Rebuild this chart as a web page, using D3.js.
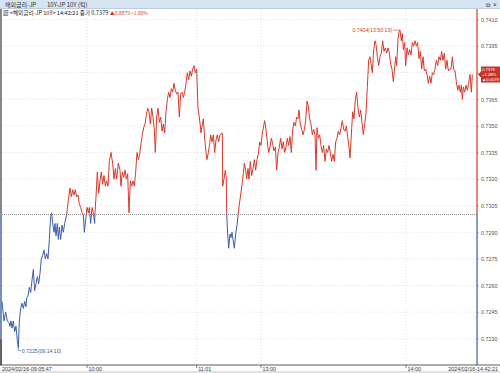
<!DOCTYPE html>
<html>
<head>
<meta charset="utf-8">
<script src="https://cdn.jsdelivr.net/npm/d3@7"></script>
<style>
  body { margin: 0; background: #fff; }
  svg { display: block; }
  text { font-family: "Liberation Sans", Arial, sans-serif; }
  .kr { font-family: "Noto Sans CJK KR", "Liberation Sans", sans-serif; }
</style>
</head>
<body>
<svg id="chart" width="500" height="373"></svg>
<script>
const width = 500, height = 373;

// tick sequence numbers and yields (10Y JP, tick chart)
const ticks = [6,12,17,22,27,30,33,36,40,44,48,52,55,58,62,66,70,74,78,80,84,88,92,96,100,104,108,112,116,120,
  124,128,132,136,140,144,148,152,155,158,162,165,168,172,175,178,182,186,190,194,200,205,210,214,218,222,226,230,234,238,
  242,246,250,253,257,261,265,268,272,276,280,284,285,288,292,296,300,304,308,312,316,320,324,328,333,338,342,346,350,355,
  360,363,367,371,375,379,383,387,391,395,399,403,407,411,415,419,423,427,431,435,439,443,447,451,455,459,463,466,470,474,
  478,482,486,490,494,498,502,506,510,514,518,522,526,530,534,538,542,546,550,554,558,562,566,570,574,578,582,586,590,594,
  598,603,607,610,614,618,621,625,629,632,636,640,644,648,652,656,660,667,668,672,676,679,680,683,686,690,693,696,699,703,
  707,711,715,718,722,726,730,733,737,740,744,747,751,755,759,763,767,771,775,779,783,787,791,794,798,802,806,810,814,818,
  822,826,830,834,838,842,846,850,854,858,862,866,870,874,878,882,886,890,894,897,901,905,909,913,917,921,925,929,933,937,
  941,945,948,951,955,959,963,967,971,975,979,983,987,991,995,999,1003,1007,1011,1015,1019,1023,1027,1031,1035,1039,1043,1047,1050,1058,
  1062,1066,1070,1074,1078,1082,1086,1090,1094,1098,1102,1106,1110,1114,1117,1121,1125,1128,1132,1136,1140,1144,1148,1152,1156,1160,1164,1168,1172,1176,
  1180,1183,1187,1190,1194,1197,1200,1204,1207,1210,1214,1217,1221,1225,1229,1233,1237,1241,1245,1249,1253,1257,1261,1265,1269,1273,1277,1281,1285,1289,
  1293,1297,1301,1305,1309,1313,1317,1321,1325,1329,1333,1337,1341,1345,1349,1353,1357,1361,1365,1369,1373,1377,1381,1384,1387,1390,1394,1398,1402,1406,
  1410,1414,1417];
const yields = [0.7251,0.7240,0.7245,0.7240,0.7239,0.7237,0.7240,0.7236,0.7240,0.7234,0.7237,0.7229,0.7225,0.7240,0.7247,0.7250,0.7247,0.7251,0.7248,0.7253,
  0.7254,0.7259,0.7256,0.7263,0.7269,0.7257,0.7261,0.7265,0.7261,0.7267,0.7275,0.7277,0.7280,0.7275,0.7278,0.7275,0.7286,0.7299,0.7301,0.7295,
  0.7290,0.7295,0.7288,0.7295,0.7286,0.7293,0.7286,0.7294,0.7290,0.7295,0.7300,0.7308,0.7315,0.7310,0.7314,0.7311,0.7314,0.7310,0.7311,0.7306,
  0.7304,0.7301,0.7300,0.7290,0.7297,0.7304,0.7301,0.7304,0.7295,0.7304,0.7301,0.7295,0.7301,0.7310,0.7324,0.7312,0.7319,0.7324,0.7317,0.7322,
  0.7316,0.7319,0.7316,0.7330,0.7335,0.7329,0.7320,0.7326,0.7320,0.7329,0.7325,0.7316,0.7324,0.7321,0.7325,0.7320,0.7323,0.7301,0.7319,0.7316,
  0.7319,0.7316,0.7324,0.7335,0.7331,0.7334,0.7340,0.7345,0.7349,0.7351,0.7356,0.7360,0.7358,0.7351,0.7360,0.7355,0.7348,0.7335,0.7355,0.7360,
  0.7352,0.7355,0.7347,0.7351,0.7346,0.7358,0.7365,0.7369,0.7366,0.7371,0.7369,0.7374,0.7370,0.7368,0.7369,0.7355,0.7368,0.7369,0.7366,0.7369,
  0.7374,0.7380,0.7376,0.7381,0.7378,0.7382,0.7384,0.7380,0.7382,0.7360,0.7355,0.7346,0.7351,0.7354,0.7343,0.7335,0.7331,0.7335,0.7340,0.7345,
  0.7341,0.7345,0.7335,0.7342,0.7345,0.7341,0.7345,0.7346,0.7316,0.7320,0.7325,0.7320,0.7301,0.7289,0.7281,0.7289,0.7287,0.7290,0.7286,0.7281,
  0.7289,0.7294,0.7301,0.7306,0.7311,0.7317,0.7323,0.7329,0.7325,0.7320,0.7326,0.7320,0.7330,0.7322,0.7326,0.7331,0.7325,0.7331,0.7334,0.7341,
  0.7339,0.7346,0.7350,0.7353,0.7348,0.7341,0.7335,0.7338,0.7343,0.7340,0.7336,0.7338,0.7325,0.7335,0.7338,0.7343,0.7337,0.7341,0.7335,0.7338,
  0.7343,0.7339,0.7344,0.7335,0.7348,0.7352,0.7350,0.7355,0.7354,0.7359,0.7351,0.7348,0.7345,0.7348,0.7353,0.7364,0.7361,0.7354,0.7351,0.7345,
  0.7348,0.7345,0.7325,0.7349,0.7343,0.7345,0.7339,0.7335,0.7339,0.7330,0.7337,0.7335,0.7339,0.7335,0.7330,0.7334,0.7330,0.7341,0.7343,0.7347,
  0.7345,0.7349,0.7353,0.7348,0.7347,0.7350,0.7344,0.7338,0.7332,0.7358,0.7354,0.7365,0.7369,0.7360,0.7355,0.7359,0.7352,0.7345,0.7351,0.7357,
  0.7372,0.7387,0.7389,0.7384,0.7380,0.7393,0.7398,0.7396,0.7389,0.7384,0.7389,0.7391,0.7398,0.7392,0.7394,0.7391,0.7394,0.7391,0.7385,0.7382,
  0.7375,0.7381,0.7389,0.7384,0.7399,0.7403,0.7404,0.7398,0.7402,0.7393,0.7397,0.7384,0.7394,0.7390,0.7393,0.7390,0.7397,0.7395,0.7398,0.7395,
  0.7397,0.7388,0.7392,0.7382,0.7389,0.7381,0.7382,0.7379,0.7374,0.7378,0.7374,0.7380,0.7379,0.7382,0.7387,0.7384,0.7389,0.7387,0.7392,0.7387,
  0.7391,0.7382,0.7387,0.7381,0.7382,0.7382,0.7389,0.7382,0.7381,0.7375,0.7370,0.7373,0.7369,0.7373,0.7365,0.7372,0.7369,0.7373,0.7370,0.7374,
  0.7379,0.7369,0.7379];

const prevClose = 0.7300;
const yTicks = [0.7230,0.7245,0.7260,0.7275,0.7290,0.7305,0.7320,0.7335,0.7350,0.7365,0.7380,0.7395,0.7410];
const timeTicks = [261, 590, 783, 1218];
const timeLabels = ['10:00', '11:01', '13:00', '14:00'];
const startLabel = '2024/02/16-09:05:47';
const endLabel = '2024/02/16-14:42:21';
const lastInfo = ['0.7379', '+1.08%', '\u25B20.0079'];

const red = '#d8392c', blue = '#3c5da6';
const pLeft = 2, pRight = 477, pTop = 9, pBottom = 365;

const data = ticks.map((t, i) => ({t: t, v: yields[i]}));
const last = data[data.length - 1];

const x = d3.scaleLinear().domain([0, 1431]).range([0, 477]);
const y = d3.scaleLinear().domain([0.7230, 0.7410]).range([338.7, 19.5]);
const yBase = y(prevClose);
const ly = y(last.v);

const svg = d3.select('#chart');

// header bar
svg.append('rect').attr('x', 0).attr('y', 0).attr('width', width).attr('height', 8.5)
    .attr('fill', '#d6e3f1');
svg.append('line').attr('x1', 0).attr('x2', width).attr('y1', 8.5).attr('y2', 8.5)
    .attr('stroke', '#9fb4cf').attr('stroke-width', 0.6);
svg.append('text').attr('class', 'kr').attr('x', 5).attr('y', 6.5)
    .attr('font-size', 6).attr('fill', '#333').text('해외금리-JP');
svg.append('text').attr('class', 'kr').attr('x', 47).attr('y', 6.5)
    .attr('font-size', 6).attr('fill', '#333').text('10Y-JP 10Y (틱)');
svg.append('text').attr('x', 486).attr('y', 6.5).attr('font-size', 6).attr('fill', '#333').text('\u29C9');
svg.append('text').attr('x', 493).attr('y', 6.5).attr('font-size', 6.5).attr('fill', '#333').text('\u00D7');

// info line
const info = svg.append('text').attr('class', 'kr').attr('x', 3).attr('y', 14.8).attr('font-size', 5.6);
info.append('tspan').attr('fill', '#222').text('\u25A8 <해외금리-JP 10Y> 14:42:21 종가 0.7379 ');
info.append('tspan').attr('fill', red).attr('font-size', 5).text('\u25B20.0079 +1.08%');

// horizontal grid
svg.append('g').selectAll('line').data(yTicks).join('line')
    .attr('x1', pLeft).attr('x2', pRight)
    .attr('y1', d => y(d)).attr('y2', d => y(d))
    .attr('stroke', '#cccccc').attr('stroke-width', 0.6).attr('stroke-dasharray', '1,2');

// vertical grid
svg.append('g').selectAll('line').data(timeTicks).join('line')
    .attr('x1', d => x(d)).attr('x2', d => x(d))
    .attr('y1', pTop).attr('y2', pBottom)
    .attr('stroke', '#cccccc').attr('stroke-width', 0.6).attr('stroke-dasharray', '1,2');

// previous close
svg.append('line').attr('x1', pLeft).attr('x2', pRight).attr('y1', yBase).attr('y2', yBase)
    .attr('stroke', '#555').attr('stroke-width', 0.7).attr('stroke-dasharray', '1,1');

// clip regions for up/down colouring
const defs = svg.append('defs');
defs.append('clipPath').attr('id', 'up').append('rect')
    .attr('x', 0).attr('y', pTop).attr('width', width).attr('height', yBase - pTop);
defs.append('clipPath').attr('id', 'down').append('rect')
    .attr('x', 0).attr('y', yBase).attr('width', width).attr('height', pBottom - yBase);

const line = d3.line().x(d => x(d.t)).y(d => y(d.v));
svg.append('path').datum(data).attr('d', line).attr('clip-path', 'url(#up)')
    .attr('fill', 'none').attr('stroke', red).attr('stroke-width', 1).attr('stroke-linejoin', 'round');
svg.append('path').datum(data).attr('d', line).attr('clip-path', 'url(#down)')
    .attr('fill', 'none').attr('stroke', blue).attr('stroke-width', 1).attr('stroke-linejoin', 'round');

// left border
svg.append('line').attr('x1', 1).attr('x2', 1).attr('y1', pTop).attr('y2', yBase)
    .attr('stroke', '#555').attr('stroke-width', 1.4);
svg.append('line').attr('x1', 1).attr('x2', 1).attr('y1', yBase).attr('y2', y(0.7230))
    .attr('stroke', blue).attr('stroke-width', 1.4);
svg.append('line').attr('x1', 1).attr('x2', 1).attr('y1', y(0.7230)).attr('y2', pBottom)
    .attr('stroke', '#222').attr('stroke-width', 1.4);

// right axis
svg.append('line').attr('x1', pRight).attr('x2', pRight).attr('y1', pTop).attr('y2', yBase)
    .attr('stroke', red).attr('stroke-width', 1.2);
svg.append('line').attr('x1', pRight).attr('x2', pRight).attr('y1', yBase).attr('y2', pBottom)
    .attr('stroke', blue).attr('stroke-width', 1.2);

// labels under the last-value box are hidden, as in the terminal
const yAxis = d3.axisRight(y).tickValues(yTicks).tickSize(2)
    .tickFormat(d => Math.abs(y(d) - ly) < 9 ? '' : d3.format('.4f')(d));
const ya = svg.append('g').attr('transform', `translate(${pRight},0)`).call(yAxis);
ya.select('.domain').remove();
ya.selectAll('line').attr('stroke', '#777').attr('stroke-width', 0.5);
ya.selectAll('text').attr('x', 4).attr('font-size', 5.4).attr('fill', '#555')
    .attr('font-family', '"Liberation Sans", Arial, sans-serif');

// minor ticks on the right axis
const minor = d3.range(0.7230, 0.74101, 0.0003);
svg.append('g').selectAll('line').data(minor).join('line')
    .attr('x1', pRight).attr('x2', pRight + 1.2)
    .attr('y1', d => y(d)).attr('y2', d => y(d))
    .attr('stroke', '#888').attr('stroke-width', 0.4);

// bottom axis
svg.append('line').attr('x1', 0).attr('x2', width).attr('y1', pBottom).attr('y2', pBottom)
    .attr('stroke', '#333').attr('stroke-width', 0.8);
svg.append('line').attr('x1', 0).attr('x2', width).attr('y1', 372).attr('y2', 372)
    .attr('stroke', '#999').attr('stroke-width', 0.6);
const xa = svg.append('g');
xa.selectAll('line').data(timeTicks).join('line')
    .attr('x1', d => x(d)).attr('x2', d => x(d)).attr('y1', pBottom).attr('y2', pBottom + 3)
    .attr('stroke', '#333').attr('stroke-width', 0.6);
xa.selectAll('text').data(timeTicks).join('text')
    .attr('x', d => x(d) + 1.5).attr('y', 370.5)
    .attr('font-size', 5.4).attr('fill', '#333')
    .text((d, i) => timeLabels[i]);
svg.append('text').attr('x', 2).attr('y', 370.5).attr('font-size', 5.4).attr('fill', '#333').text(startLabel);
svg.append('text').attr('x', 498).attr('y', 370.5).attr('text-anchor', 'end')
    .attr('font-size', 5.4).attr('fill', '#333').text(endLabel);

// high / low annotations
const hi = data.reduce((a, b) => b.v > a.v ? b : a);
const lo = data.reduce((a, b) => b.v < a.v ? b : a);
svg.append('path')
    .attr('d', `M${x(hi.t)},${y(hi.v)}H${x(hi.t) - 7}`)
    .attr('stroke', red).attr('stroke-width', 0.6).attr('fill', 'none');
svg.append('text').attr('x', x(hi.t) - 8).attr('y', y(hi.v) + 2).attr('text-anchor', 'end')
    .attr('font-size', 5.2).attr('fill', red).text(`${hi.v.toFixed(4)}(13:50:13)`);
svg.append('path')
    .attr('d', `M${x(lo.t)},${y(lo.v)}V${y(lo.v) + 3}H${x(lo.t) + 3}`)
    .attr('stroke', blue).attr('stroke-width', 0.6).attr('fill', 'none');
svg.append('text').attr('x', x(lo.t) + 3.5).attr('y', y(lo.v) + 5)
    .attr('font-size', 5.2).attr('fill', blue).text(`${lo.v.toFixed(4)}(09:14:10)`);

// last value box
svg.append('path')
    .attr('d', `M${pRight + 1},${ly}L${pRight + 4},${ly - 3}V${ly - 8}H${width}V${ly + 8}H${pRight + 4}V${ly + 3}Z`)
    .attr('fill', '#c9332a');
svg.append('g').selectAll('text').data(lastInfo).join('text')
    .attr('x', pRight + 5).attr('y', (d, i) => ly - 3.4 + i * 5)
    .attr('font-size', 4.2).attr('fill', '#fff').text(d => d);
</script>
</body>
</html>
